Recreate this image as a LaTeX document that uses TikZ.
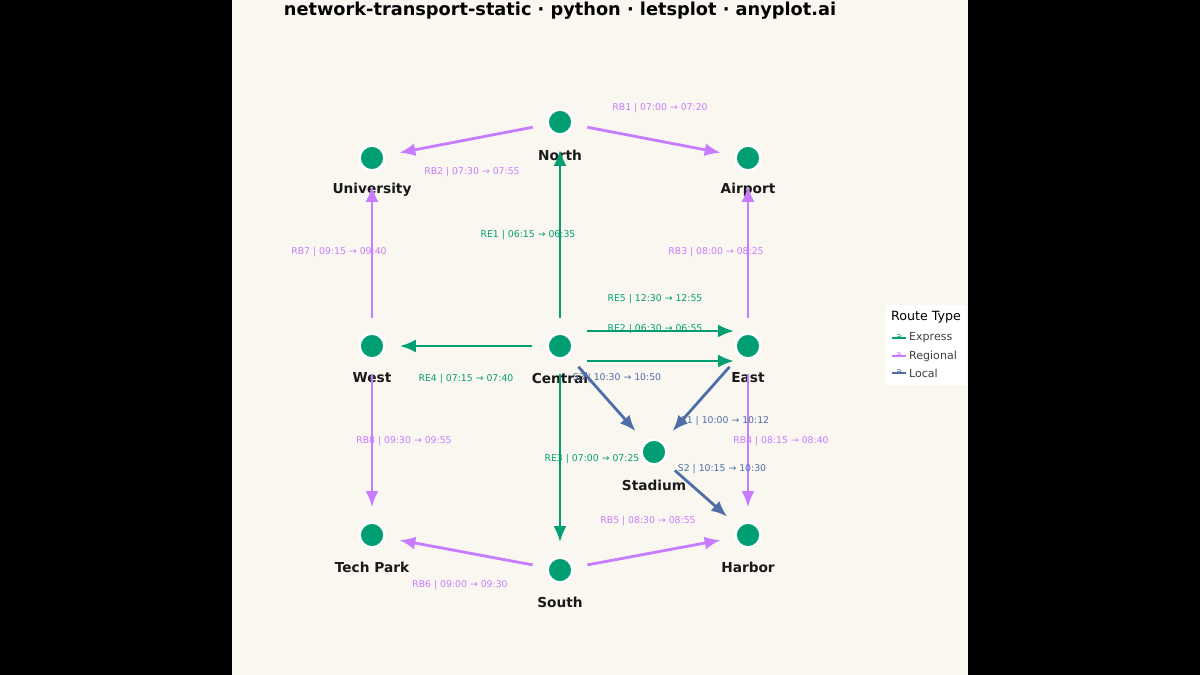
\documentclass[tikz,border=0pt]{standalone}
\usepackage{fontspec}
\setmainfont{DejaVu Sans}
\usetikzlibrary{arrows.meta}
\definecolor{express}{RGB}{0,158,115}
\definecolor{regional}{RGB}{199,124,255}
\definecolor{local}{RGB}{78,110,168}
\definecolor{paper}{RGB}{250,247,240}
\tikzset{
	stop/.style={circle,fill=express,draw=white,line width=1.5pt,minimum size=0.5cm,inner sep=0pt},
	stname/.style={font=\bfseries\fontsize{7.8}{10}\selectfont,text=black!90},
	route/.style={-{Latex[length=3.2mm,width=2.6mm]},line width=1.6pt,shorten >=0.28cm,shorten <=0.28cm},
	lab/.style={font=\fontsize{5.3}{7}\selectfont}
}
\begin{document}
\begin{tikzpicture}[x=0.02cm,y=-0.02cm]
		\useasboundingbox (0,0) rectangle (1200,675);
		\fill[black] (0,0) rectangle (1200,675);
		\fill[paper] (232,0) rectangle (968,675);
		\node[font=\bfseries\fontsize{10.1}{12}\selectfont] (title) at (560,11) {network-transport-static · python · letsplot · anyplot.ai};
		
		% stations
		\node[stop] (n) at (560,122) {};
		\node[stop] (u) at (372,158) {};
		\node[stop] (a) at (748,158) {};
		\node[stop] (w) at (372,346) {};
		\node[stop] (c) at (560,346) {};
		\node[stop] (e) at (748,346) {};
		\node[stop] (s) at (654,452) {};
		\node[stop] (t) at (372,535) {};
		\node[stop] (h) at (748,535) {};
		\node[stop] (so) at (560,570) {};
		
		\node[stname] (nl) at (560,155) {North};
		\node[stname] (ul) at (372,190) {University};
		\node[stname] (al) at (748,190) {Airport};
		\node[stname] (wl) at (372,378) {West};
		\node[stname] (cl) at (560,378) {Central};
		\node[stname] (el) at (748,378) {East};
		\node[stname] (sl) at (654,485) {Stadium};
		\node[stname] (tl) at (372,567) {Tech Park};
		\node[stname] (hl) at (748,567) {Harbor};
		\node[stname] (sol) at (560,602) {South};
		
		% routes
		\draw[route,regional] (n) -- (a);
		\draw[route,regional] (n) -- (u);
		\draw[route,express] (c) -- (n);
		\draw[route,express,shorten <=0.54cm] ([yshift=0.3cm]c.center) -- ([yshift=0.3cm]e.center);
		\draw[route,express,shorten <=0.54cm] ([yshift=-0.3cm]c.center) -- ([yshift=-0.3cm]e.center);
		\draw[route,express] (c) -- (w);
		\draw[route,express] (c) -- (so);
		\draw[route,regional] (e) -- (a);
		\draw[route,regional] (w) -- (u);
		\draw[route,regional] (w) -- (t);
		\draw[route,regional] (e) -- (h);
		\draw[route,local] (c) -- (s);
		\draw[route,local] (e) -- (s);
		\draw[route,local] (s) -- (h);
		\draw[route,regional] (so) -- (t);
		\draw[route,regional] (so) -- (h);
		
		% route labels
		\node[lab,regional] (rb1) at (660,108) {RB1 | 07:00 → 07:20};
		\node[lab,regional] (rb2) at (472,172) {RB2 | 07:30 → 07:55};
		\node[lab,express] (re1) at (528,235) {RE1 | 06:15 → 06:35};
		\node[lab,regional] (rb7) at (339,252) {RB7 | 09:15 → 09:40};
		\node[lab,regional] (rb3) at (716,252) {RB3 | 08:00 → 08:25};
		\node[lab,express] (re5) at (655,299) {RE5 | 12:30 → 12:55};
		\node[lab,express] (re2) at (655,329) {RE2 | 06:30 → 06:55};
		\node[lab,express] (re4) at (466,379) {RE4 | 07:15 → 07:40};
		\node[lab,local] (s3) at (617,378) {S3 | 10:30 → 10:50};
		\node[lab,local] (s1) at (725,421) {S1 | 10:00 → 10:12};
		\node[lab,regional] (rb8) at (404,441) {RB8 | 09:30 → 09:55};
		\node[lab,regional] (rb4) at (781,441) {RB4 | 08:15 → 08:40};
		\node[lab,express] (re3) at (592,459) {RE3 | 07:00 → 07:25};
		\node[lab,local] (s2) at (722,469) {S2 | 10:15 → 10:30};
		\node[lab,regional] (rb5) at (648,521) {RB5 | 08:30 → 08:55};
		\node[lab,regional] (rb6) at (460,585) {RB6 | 09:00 → 09:30};
		
		% legend
		\fill[white] (886,305) rectangle (966,385);
		\node[anchor=west,font=\fontsize{7.2}{9}\selectfont,inner sep=1pt] (lt) at (889,317) {Route Type};
		\foreach \c/\t/\y in {express/Express/338,regional/Regional/356,local/Local/373}{
			\draw[\c,line width=0.8pt] (892,\y) -- (906,\y);
			\node[\c,font=\fontsize{5}{6}\selectfont,inner sep=0pt] at (899,\y-1) {a};
			\node[anchor=west,font=\fontsize{6.3}{8}\selectfont,text=black!75,inner sep=1pt] at (907,\y) {\t};
		}
\end{tikzpicture}
\end{document}
